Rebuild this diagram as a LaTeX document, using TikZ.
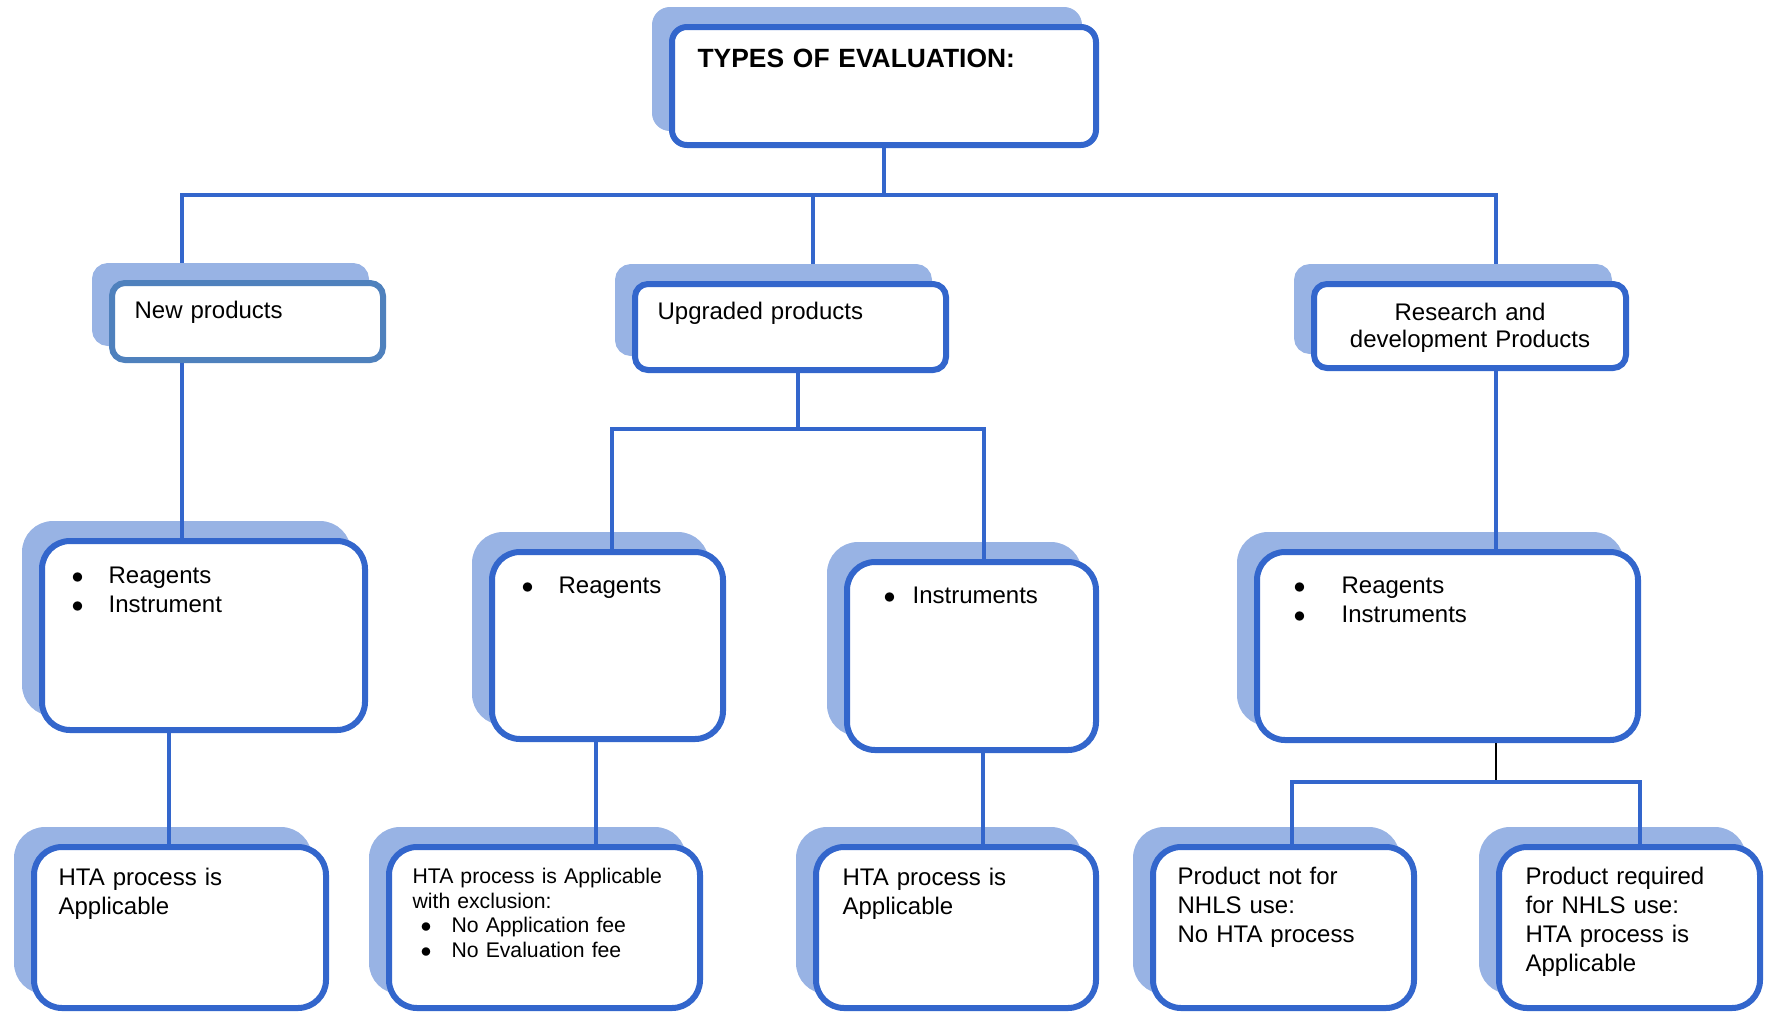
\documentclass[tikz,border=0pt]{standalone}
\usepackage{fontspec}
\setmainfont{Liberation Sans}
\usetikzlibrary{shadows,backgrounds}

\definecolor{cardblue}{RGB}{51,102,204}
\definecolor{newblue}{RGB}{79,129,189}
\definecolor{shadowblue}{RGB}{152,179,228}

\newcommand{\bul}[1]{\makebox[#1][l]{$\bullet$}}

\tikzset{
	card/.style={draw=cardblue, line width=3pt, fill=white, rounded corners=14pt,
		anchor=north west, align=left, inner ysep=0pt,
		font=\fontsize{12}{14.5}\selectfont,
		drop shadow={shadow xshift=-8.5pt, shadow yshift=8.5pt, fill=shadowblue, draw=shadowblue, opacity=1}},
	small card/.style={card, rounded corners=6.5pt},
	link/.style={draw=cardblue, line width=1.75pt},
}

\begin{document}
\begin{tikzpicture}[x=0.5pt,y=-0.5pt]
	\useasboundingbox (0,0) rectangle (1769,1013);

	\node[card, rounded corners=7.5pt, inner xsep=12.8pt, text width=186.4pt, text height=20.1pt, text depth=38.9pt,
		font=\fontsize{13.2}{16}\selectfont\bfseries] (types) at (669,24) {TYPES OF EVALUATION:};

	% kinds of product
	\node[small card, draw=newblue, inner xsep=11.3pt, text width=112.9pt, text height=17.6pt, text depth=20.9pt] (newp) at (109,280) {New products};
	\node[small card, inner xsep=11.3pt, text width=132.9pt, text height=17.6pt, text depth=25.4pt] (upg) at (632,281) {Upgraded products};
	\node[small card, align=center, inner xsep=5pt, text width=146pt, text height=18.1pt, text depth=23.9pt,
		font=\fontsize{12}{13.5}\selectfont] (rnd) at (1311,281) {Research and\\development Products};

	% what is evaluated
	\node[card, inner xsep=14.8pt, text width=131.9pt, text height=21.1pt, text depth=73.4pt] (newitems) at (39,538)
		{\bul{18.5pt}Reagents\\\bul{18.5pt}Instrument};
	\node[card, inner xsep=14.8pt, text width=85.9pt, text height=20.6pt, text depth=72.9pt] (upgreag) at (489,549)
		{\bul{18.5pt}Reagents};
	\node[card, inner xsep=18.3pt, text width=87.9pt, text height=20.6pt, text depth=73.4pt] (upginst) at (844,559)
		{\bul{14.5pt}Instruments};
	\node[card, inner xsep=18.3pt, text width=153.9pt, text height=20.6pt, text depth=73.4pt] (rnditems) at (1254,549)
		{\bul{24pt}Reagents\\\bul{24pt}Instruments};

	% outcome
	\begin{scope}[every node/.append style={font=\fontsize{12}{13.8}\selectfont}]
	\node[card, inner xsep=12.3pt, text width=121.4pt, text height=19.1pt, text depth=61.4pt] (hta1) at (31,844)
		{HTA process is\\Applicable};
	\node[card, inner xsep=11.8pt, text width=131.9pt, text height=18.1pt, text depth=62.4pt,
		font=\fontsize{10.6}{12.4}\selectfont] (hta2) at (386,844)
		{HTA process is Applicable\\with exclusion:\\\hspace*{4pt}\bul{15.5pt}No Application fee\\\hspace*{4pt}\bul{15.5pt}No Evaluation fee};
	\node[card, inner xsep=13.3pt, text width=113.4pt, text height=19.1pt, text depth=61.4pt] (hta3) at (813,844)
		{HTA process is\\Applicable};
	\node[card, inner xsep=12.3pt, text width=105.9pt, text height=18.6pt, text depth=61.9pt] (noneed) at (1150,844)
		{Product not for\\NHLS use:\\No HTA process};
	\node[card, inner xsep=13.3pt, text width=103.9pt, text height=18.6pt, text depth=61.9pt] (need) at (1496,844)
		{Product required\\for NHLS use:\\HTA process is\\Applicable};
	\end{scope}

	\coordinate (bus1w) at (182,195);
	\coordinate (bus1m) at (813,195);
	\coordinate (bus1e) at (1496,195);
	\coordinate (bus2w) at (612,429);
	\coordinate (bus2m) at (798,429);
	\coordinate (bus2e) at (984,429);
	\coordinate (bus3w) at (1292,782);
	\coordinate (bus3m) at (1496,782);
	\coordinate (bus3e) at (1640,782);

	\begin{scope}[on background layer]
	\draw[link] (types.south) -- (types.south |- bus1w);
	\draw[link] (bus1w |- newp.north) -- (bus1w) -- (bus1e) -- (bus1e |- rnd.north);
	\draw[link] (bus1m) -- (bus1m |- upg.north);
	\end{scope}

	\draw[link] (bus1w |- newp.south) -- (bus1w |- newitems.north);
	\draw[link] (bus2m |- upg.south) -- (bus2m);
	\draw[link] (bus2w |- upgreag.north) -- (bus2w) -- (bus2e) -- (bus2e |- upginst.north);
	\draw[link] (bus1e |- rnd.south) -- (bus1e |- rnditems.north);

	\draw[link] ([xshift=-17.25pt]newitems.south) -- ([xshift=-17.25pt]newitems.south |- hta1.north);
	\draw[link] ([xshift=-5.75pt]upgreag.south) -- ([xshift=-5.75pt]upgreag.south |- hta2.north);
	\draw[link] ([xshift=5.75pt]upginst.south) -- ([xshift=5.75pt]upginst.south |- hta3.north);
	\draw[black, line width=1.2pt] (bus3m |- rnditems.south) -- (bus3m);
	\draw[link] (bus3w |- noneed.north) -- (bus3w) -- (bus3e) -- (bus3e |- need.north);
\end{tikzpicture}
\end{document}
